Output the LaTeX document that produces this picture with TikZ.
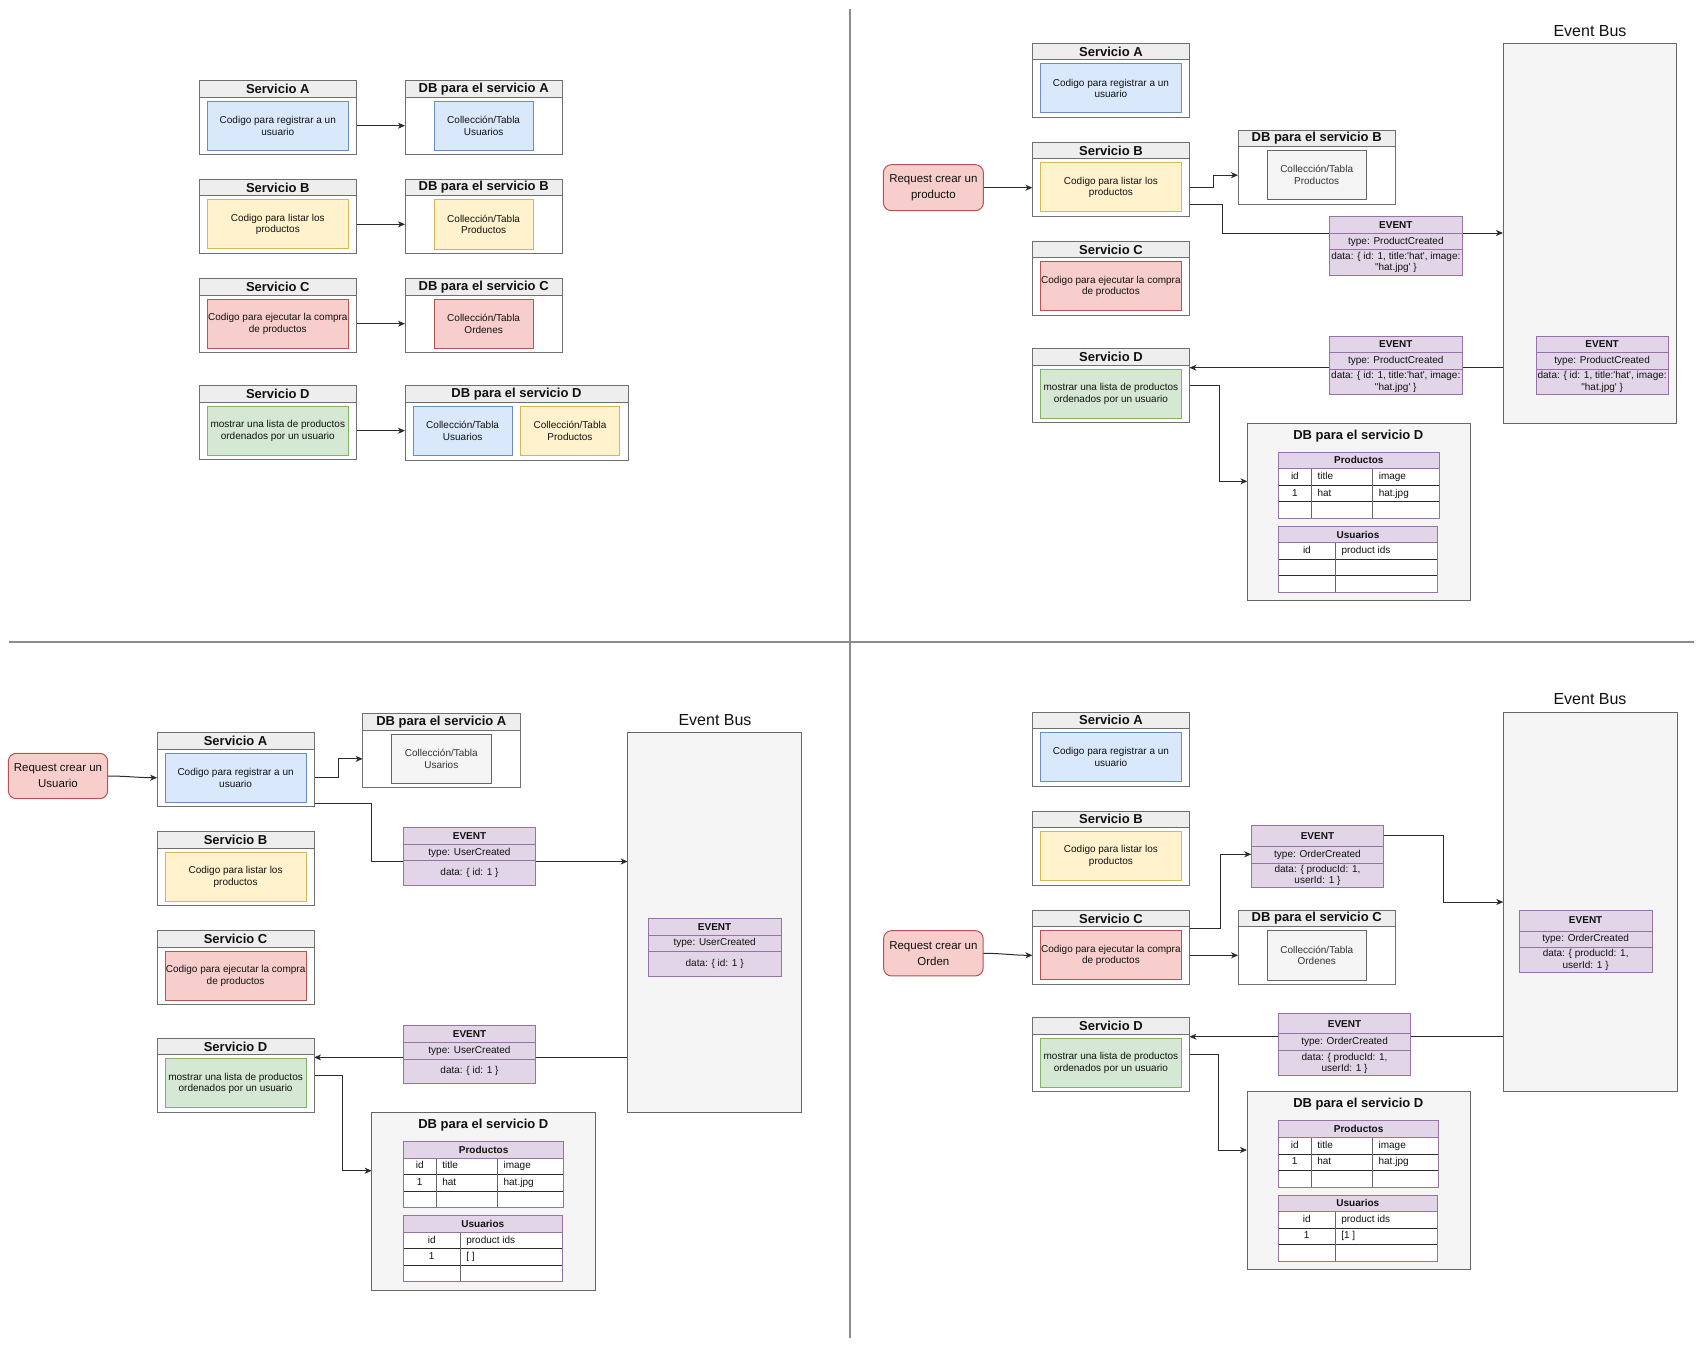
\documentclass[tikz,border=0pt]{standalone}
\usepackage{fontspec}
\newfontfamily\lsf{Liberation Sans}
\usetikzlibrary{arrows.meta,fit,calc}
\pgfdeclarelayer{bg}
\pgfsetlayers{bg,main}
\definecolor{bluef}{HTML}{DAE8FC}\definecolor{blues}{HTML}{6C8EBF}
\definecolor{yelf}{HTML}{FFF2CC}\definecolor{yels}{HTML}{D6B656}
\definecolor{redf}{HTML}{F8CECC}\definecolor{reds}{HTML}{B85450}
\definecolor{grnf}{HTML}{D5E8D4}\definecolor{grns}{HTML}{82B366}
\definecolor{gryf}{HTML}{F5F5F5}\definecolor{grys}{HTML}{666666}\definecolor{gryt}{HTML}{333333}
\definecolor{purf}{HTML}{E1D5E7}\definecolor{purs}{HTML}{9673A6}
\definecolor{hdrf}{HTML}{EEEEEE}\definecolor{swl}{HTML}{6F6F6F}
\definecolor{connc}{HTML}{2B2B2B}\definecolor{divc}{HTML}{8C8C8C}
\definecolor{txtc}{HTML}{111111}
\newcommand{\myBody}{\lsf\fontsize{10}{11.7}\selectfont}
\newcommand{\myEv}{\lsf\fontsize{10}{11.3}\selectfont}
\newcommand{\myEvB}{\lsf\bfseries\fontsize{10}{11.3}\selectfont}
\newcommand{\myHd}{\lsf\bfseries\fontsize{13}{15}\selectfont}
\newcommand{\myReq}{\lsf\fontsize{11.5}{16}\selectfont}
\newcommand{\myBus}{\lsf\fontsize{16}{19}\selectfont}
\tikzset{
 bx/.style={inner sep=0pt, outer sep=0pt, line width=1pt, text=txtc},
 swbox/.style={bx, draw=swl, fill=white},
 swhdr/.style={bx, draw=swl, fill=hdrf, font=\myHd},
 inbox/.style={bx, align=center, font=\myBody},
 cblue/.style={fill=bluef, draw=blues},
 cyel/.style={fill=yelf, draw=yels},
 cred/.style={fill=redf, draw=reds},
 cgrn/.style={fill=grnf, draw=grns},
 cgray/.style={fill=gryf, draw=grys, text=gryt},
 evrow/.style={bx, draw=purs, fill=purf, align=center, font=\myEv},
 tbody/.style={bx, draw=purs, fill=white},
 tcell/.style={bx, font=\myEv, text height=7.2pt, text depth=2pt},
 trow/.style={draw=connc, line width=1pt},
 tcol/.style={draw=grys, line width=0.8pt},
 req/.style={bx, draw=reds, fill=redf, rounded corners=8pt, align=center, font=\myReq},
 bus/.style={bx, draw=grys, fill=gryf},
 bustitle/.style={bx, font=\myBus},
 dbtitle/.style={bx, font=\myHd},
 arr/.style={draw=connc, line width=1pt, -{Stealth[length=7pt,width=6pt,inset=2pt]}},
 divider/.style={draw=divc, line width=1.5pt},
}
% service box: name, x, y, title, colour style, text
\newcommand{\svc}[6]{%
 \node[swbox, minimum width=157, minimum height=74, anchor=north west] (#1) at (#2,#3) {};
 \node[swhdr, minimum width=157, minimum height=16.5, anchor=north west] (#1-h) at (#2,#3) {#4};
 \node[inbox, #5, minimum width=141, minimum height=49, anchor=north west] (#1-i) at ([shift={(8,20.5)}]#1.north west) {#6};
}
% DB box: name, x, y, title, colour style, text
\newcommand{\dbx}[6]{%
 \node[swbox, minimum width=157.3, minimum height=74, anchor=north west] (#1) at (#2,#3) {};
 \node[swhdr, minimum width=157.3, minimum height=16.5, anchor=north west] (#1-h) at (#2,#3) {#4};
 \node[inbox, #5, minimum width=99.3, minimum height=49.3, anchor=north] (#1-i) at ([yshift=-20.5pt]#1.north) {#6};
}
% event: name, x, y, header h, type h, data h, width, type text, data text
\newcommand{\evt}[9]{%
 \node[evrow, font=\myEvB, minimum width=#7, minimum height=#4, anchor=north west] (#1-h) at (#2,#3) {EVENT};
 \node[evrow, minimum width=#7, minimum height=#5, anchor=north west] (#1-t) at (#1-h.south west) {#8};
 \node[evrow, minimum width=#7, minimum height=#6, anchor=north west] (#1-d) at (#1-t.south west) {#9};
 \node[fit=(#1-h)(#1-d), inner sep=0pt, outer sep=0pt] (#1) {};
}
% Productos table: name, x, y
\newcommand{\prodt}[3]{%
 \begin{scope}[shift={(#2,#3)}]
 \node[evrow, font=\myEvB, minimum width=160.6, minimum height=16.7, anchor=north west] (#1) at (0,0) {Productos};
 \node[tbody, minimum width=160.6, minimum height=49.5, anchor=north west] (#1-b) at (0,16.7) {};
 \draw[trow] (0,33.2) -- (160.6,33.2) (0,49.7) -- (160.6,49.7);
 \draw[tcol] (32.8,16.7) -- (32.8,66.2) (94.3,16.7) -- (94.3,66.2);
 \draw[draw=purs, line width=1pt] (0,16.7) rectangle (160.6,66.2);
 \node[tcell] (#1-a1) at (16.4,24.95) {id};
 \node[tcell, anchor=west] (#1-a2) at (39,24.95) {title};
 \node[tcell, anchor=west] (#1-a3) at (100.3,24.95) {image};
 \node[tcell] (#1-b1) at (16.4,41.45) {1};
 \node[tcell, anchor=west] (#1-b2) at (39,41.45) {hat};
 \node[tcell, anchor=west] (#1-b3) at (100.3,41.45) {hat.jpg};
 \end{scope}}
% Usuarios table: name, x, y, cell id, cell ids
\newcommand{\usert}[5]{%
 \begin{scope}[shift={(#2,#3)}]
 \node[evrow, font=\myEvB, minimum width=159, minimum height=16.4, anchor=north west] (#1) at (0,0) {Usuarios};
 \node[tbody, minimum width=159, minimum height=49.6, anchor=north west] (#1-b) at (0,16.4) {};
 \draw[trow] (0,33) -- (159,33) (0,49.5) -- (159,49.5);
 \draw[tcol] (56.8,16.4) -- (56.8,66);
 \draw[draw=purs, line width=1pt] (0,16.4) rectangle (159,66);
 \node[tcell] (#1-a1) at (28.4,24.7) {id};
 \node[tcell, anchor=west] (#1-a2) at (63,24.7) {product ids};
 \node[tcell] (#1-b1) at (28.4,41.25) {#4};
 \node[tcell, anchor=west] (#1-b2) at (63,41.25) {#5};
 \end{scope}}
\begin{document}
\begin{tikzpicture}[x=1pt,y=-1pt]
\useasboundingbox (0,0) rectangle (1706,1350);
% dividers
\draw[divider] (850,9) -- (850,1337.7);
\draw[divider] (9.3,642) -- (1694,642);

%%%%%%%%%%%%%%%% TOP LEFT
\svc{tlA}{199.3}{80.7}{Servicio A}{cblue}{Codigo para registrar a un\\usuario}
\svc{tlB}{199.3}{179.3}{Servicio B}{cyel}{Codigo para listar los\\productos}
\svc{tlC}{199.3}{278.7}{Servicio C}{cred}{Codigo para ejecutar la compra\\de productos}
\svc{tlD}{199.3}{385.7}{Servicio D}{cgrn}{mostrar una lista de productos\\ordenados por un usuario}
\dbx{tlDA}{405}{80.7}{DB para el servicio A}{cblue}{Collección/Tabla\\Usuarios}
\dbx{tlDB}{405}{179.3}{DB para el servicio B}{cyel}{Collección/Tabla\\Productos}
\dbx{tlDC}{405}{278.7}{DB para el servicio C}{cred}{Collección/Tabla\\Ordenes}
\node[swbox, minimum width=223, minimum height=74.3, anchor=north west] (tlDD) at (405,385.7) {};
\node[swhdr, minimum width=223, minimum height=16.5, anchor=north west] (tlDD-h) at (405,385.7) {DB para el servicio D};
\node[inbox, cblue, minimum width=99.3, minimum height=49.3, anchor=north west] (tlDD-i1) at ([shift={(8,20.6)}]tlDD.north west) {Collección/Tabla\\Usuarios};
\node[inbox, cyel, minimum width=99.3, minimum height=49.3, anchor=north west] (tlDD-i2) at ([shift={(115.3,20.6)}]tlDD.north west) {Collección/Tabla\\Productos};

%%%%%%%%%%%%%%%% TOP RIGHT
\node[req, minimum width=100, minimum height=46] (trR) at (933.4,187.7) {Request crear un\\producto};
\svc{trA}{1032.4}{43.3}{Servicio A}{cblue}{Codigo para registrar a un\\usuario}
\svc{trB}{1032.4}{142.3}{Servicio B}{cyel}{Codigo para listar los\\productos}
\svc{trC}{1032.4}{241.3}{Servicio C}{cred}{Codigo para ejecutar la compra\\de productos}
\svc{trD}{1032.4}{348.7}{Servicio D}{cgrn}{mostrar una lista de productos\\ordenados por un usuario}
\dbx{trDB}{1238}{130}{DB para el servicio B}{cgray}{Collección/Tabla\\Productos}
\node[bus, minimum width=173.7, minimum height=379.7, anchor=north west] (trBus) at (1503,43.3) {};
\node[bustitle] (trBusT) at (1590,30.7) {Event Bus};
\evt{trE1}{1329.7}{216.7}{16.6}{16.3}{25.4}{132.3}{type: ProductCreated}{data: \{ id: 1, title:'hat', image:\\"hat.jpg' \}}
\evt{trE2}{1329.5}{336.3}{16.2}{17}{25}{132.5}{type: ProductCreated}{data: \{ id: 1, title:'hat', image:\\"hat.jpg' \}}
\evt{trE3}{1536}{336.3}{16.2}{17}{25}{132.3}{type: ProductCreated}{data: \{ id: 1, title:'hat', image:\\"hat.jpg' \}}
\node[bus, minimum width=223.1, minimum height=177.3, anchor=north west] (trDD) at (1247.4,423) {};
\node[dbtitle] (trDDT) at (1358.3,435.7) {DB para el servicio D};
\prodt{trP}{1278.5}{452}
\usert{trU}{1278.5}{526.3}{}{}

%%%%%%%%%%%%%%%% BOTTOM LEFT
\node[req, minimum width=99.3, minimum height=45.4] (blR) at (58,776) {Request crear un\\Usuario};
\svc{blA}{157.1}{732.7}{Servicio A}{cblue}{Codigo para registrar a un\\usuario}
\svc{blB}{157.1}{831.7}{Servicio B}{cyel}{Codigo para listar los\\productos}
\svc{blC}{157.1}{930.7}{Servicio C}{cred}{Codigo para ejecutar la compra\\de productos}
\svc{blD}{157.1}{1038.3}{Servicio D}{cgrn}{mostrar una lista de productos\\ordenados por un usuario}
\dbx{blDA}{362.7}{713.7}{DB para el servicio A}{cgray}{Collección/Tabla\\Usarios}
\node[bus, minimum width=174, minimum height=380, anchor=north west] (blBus) at (627.7,732.5) {};
\node[bustitle] (blBusT) at (715,719.9) {Event Bus};
\evt{blE1}{403.3}{827.4}{16.9}{16.4}{24.9}{132.4}{type: UserCreated}{data: \{ id: 1 \}}
\evt{blE3}{403.3}{1025.7}{16.8}{16.5}{24.5}{132.4}{type: UserCreated}{data: \{ id: 1 \}}
\evt{blE2}{648.3}{918.5}{16.5}{16.4}{24.9}{132.7}{type: UserCreated}{data: \{ id: 1 \}}
\node[bus, minimum width=223.3, minimum height=177.6, anchor=north west] (blDD) at (371.7,1112.5) {};
\node[dbtitle] (blDDT) at (483.3,1124.8) {DB para el servicio D};
\prodt{blP}{403.3}{1141.3}
\usert{blU}{403.3}{1215.9}{1}{[ ]}

%%%%%%%%%%%%%%%% BOTTOM RIGHT
\node[req, minimum width=99.6, minimum height=45.3] (brR) at (933.4,953.3) {Request crear un\\Orden};
\svc{brA}{1032.4}{712}{Servicio A}{cblue}{Codigo para registrar a un\\usuario}
\svc{brB}{1032.4}{811}{Servicio B}{cyel}{Codigo para listar los\\productos}
\svc{brC}{1032.4}{910.3}{Servicio C}{cred}{Codigo para ejecutar la compra\\de productos}
\svc{brD}{1032.4}{1017.7}{Servicio D}{cgrn}{mostrar una lista de productos\\ordenados por un usuario}
\dbx{brDC}{1238.1}{910.3}{DB para el servicio C}{cgray}{Collección/Tabla\\Ordenes}
\node[bus, minimum width=173.7, minimum height=379.7, anchor=north west] (brBus) at (1503.3,712.1) {};
\node[bustitle] (brBusT) at (1590,699.1) {Event Bus};
\evt{brE1}{1251.3}{825.5}{20.5}{17.2}{24.6}{132.3}{type: OrderCreated}{data: \{ producId: 1,\\userId: 1 \}}
\evt{brE3}{1278.2}{1013.3}{20.5}{17}{24.5}{132.7}{type: OrderCreated}{data: \{ producId: 1,\\userId: 1 \}}
\evt{brE2}{1519.3}{910}{21}{16.5}{25}{132.7}{type: OrderCreated}{data: \{ producId: 1,\\userId: 1 \}}
\node[bus, minimum width=223.3, minimum height=177.6, anchor=north west] (brDD) at (1247,1091.8) {};
\node[dbtitle] (brDDT) at (1358.3,1104) {DB para el servicio D};
\prodt{brP}{1278.3}{1120.9}
\usert{brU}{1278.3}{1195.1}{1}{[1 ]}

%%%%%%%%%%%%%%%% CONNECTORS (behind boxes)
\begin{pgfonlayer}{bg}
% top left
\draw[arr] (tlA-i.center -| tlA.east) -- (tlA-i.center -| tlDA.west);
\draw[arr] (tlB-i.center -| tlB.east) -- (tlB-i.center -| tlDB.west);
\draw[arr] (tlC-i.center -| tlC.east) -- (tlC-i.center -| tlDC.west);
\draw[arr] (tlD-i.center -| tlD.east) -- (tlD-i.center -| tlDD.west);
% top right
\draw[arr] (trR.east) -- (trR.east -| trB.west);
\draw[arr] (trB.east |- trR.east) -- ++(24.5,0) |- (trDB-i.center -| trDB.west);
\draw[arr] (trB.east |- 0,204) -- ++(33.3,0) |- (trBus.west |- 0,233);
\draw[arr] (trBus.west |- 0,367.7) -- (trD.east |- 0,367.7);
\draw[arr] (trD.east |- 0,385.7) -- ++(29.6,0) |- (trDD.west |- 0,481.3);
% bottom left
\draw[arr] (blR.east) to[out=0,in=180] (blA.west |- blA-i.center);
\draw[arr] (blA.east |- blA-i.center) -- ++(24.2,0) |- (blDA.west |- blDA-i.center);
\draw[arr] (blA.east |- 0,803) -- ++(57.5,0) |- (blBus.west |- 0,861.5);
\draw[arr] (blBus.west |- 0,1057.4) -- (blD.east |- 0,1057.4);
\draw[arr] (blD.east |- 0,1075.3) -- ++(28.7,0) |- (blDD.west |- 0,1170.7);
% bottom right
\draw[arr] (brR.east) to[out=0,in=180] (brC.west |- brC-i.center);
\draw[arr] (brC.east |- 0,928.7) -- ++(31,0) |- (brE1.west |- 0,854.3);
\draw[arr] (brE1.east |- 0,835.8) -- ++(59.7,0) |- (brBus.west |- 0,902);
\draw[arr] (brC.east |- brC-i.center) -- (brDC.west |- brC-i.center);
\draw[arr] (brBus.west |- 0,1036.7) -- (brD.east |- 0,1036.7);
\draw[arr] (brD.east |- 0,1054.7) -- ++(28.8,0) |- (brDD.west |- 0,1150);
\end{pgfonlayer}
\end{tikzpicture}
\end{document}
